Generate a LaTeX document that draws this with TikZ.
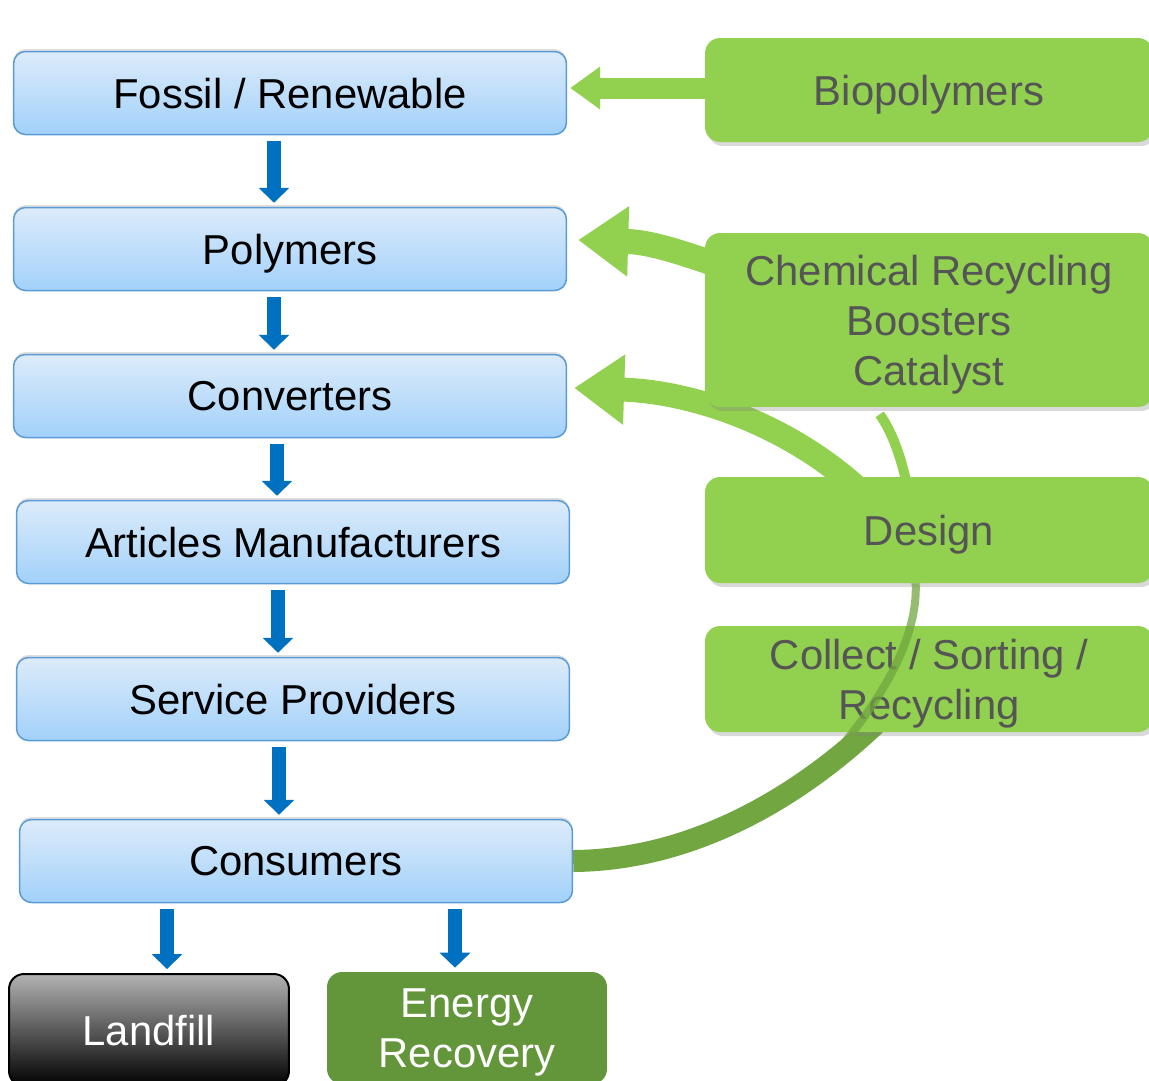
\documentclass[tikz,border=0pt]{standalone}
\usepackage{fontspec}
\setmainfont{Liberation Sans}
\usepackage{xcolor}
\usetikzlibrary{arrows.meta,calc,shadows}

\definecolor{boxtop}{HTML}{DCEBFA}
\definecolor{boxbot}{HTML}{A2D1FA}
\definecolor{boxline}{HTML}{5B9BD5}
\definecolor{flowblue}{HTML}{0070C0}
\definecolor{leaf}{HTML}{92D050}
\definecolor{moss}{HTML}{71A641}
\definecolor{olive}{HTML}{63953A}
\definecolor{ink}{HTML}{555555}

\pgfdeclarelayer{bg}
\pgfdeclarelayer{fg}
\pgfsetlayers{bg,main,fg}

\tikzset{
  bluebox/.style={draw=boxline, line width=0.03cm, rounded corners=0.24cm,
    top color=boxtop, bottom color=boxbot, minimum width=11.06cm,
    minimum height=1.66cm, inner sep=0pt, text=black, text depth=0pt,
    font=\fontsize{23.8}{28.4}\selectfont,
    drop shadow={shadow xshift=0cm, shadow yshift=0.05cm, opacity=0.25}},
  greenbox/.style={fill=leaf, rounded corners=0.3cm, minimum width=8.96cm,
    inner sep=0pt, align=center, text=ink, text depth=0pt,
    font=\fontsize{23.8}{28.4}\selectfont,
    drop shadow={shadow xshift=0.06cm, shadow yshift=-0.08cm, opacity=0.3}},
  endbox/.style={rounded corners=0.3cm, minimum width=5.6cm,
    minimum height=2.24cm, inner sep=0pt, align=center, text=white,
    text depth=0pt, font=\fontsize{23.8}{28.4}\selectfont},
  bluearrow/.style={draw=flowblue, line width=0.28cm,
    -{Triangle[length=0.3cm, width=0.6cm]},
    shorten <=0.12cm, shorten >=0.08cm},
  greenarrow/.style={draw=leaf, line width=0.48cm,
    -{Triangle[length=1cm, width=1.34cm]}}
}

\begin{document}
\begin{tikzpicture}[x=0.02cm, y=-0.02cm]
    \useasboundingbox (0,0) rectangle (1149,1080);
    \clip (0,0) rectangle (1149,1080);

    % Value chain
    \node[bluebox] (fossil) at (290,93) {Fossil / Renewable};
    \node[bluebox] (polymers) at (290,249) {Polymers};
    \node[bluebox] (converters) at (290,396) {Converters};
    \node[bluebox] (articles) at (293,542) {Articles Manufacturers};
    \node[bluebox] (service) at (293,699) {Service Providers};
    \node[bluebox] (consumers) at (296,861) {Consumers};

    % End of life
    \node[endbox, draw=black, line width=0.04cm, top color=gray!60,
      bottom color=black] (landfill) at (149,1030) {Landfill};
    \node[endbox, fill=olive] (energy) at (467,1028) {Energy\\Recovery};

    % Levers
    \node[greenbox, minimum height=2.08cm] (bio) at (929,90) {Biopolymers};
    \node[greenbox, minimum height=3.48cm] (chem) at (929,320)
      {Chemical Recycling\\Boosters\\Catalyst};
    \node[greenbox, minimum height=2.12cm] (design) at (929,530) {Design};
    \node[greenbox, minimum height=2.12cm] (collect) at (929,679)
      {Collect / Sorting /\\Recycling};

    % Blue flow
    \foreach \a/\b/\x in {fossil/polymers/274, polymers/converters/274,
      converters/articles/277, articles/service/278, service/consumers/279,
      consumers/landfill/167, consumers/energy/455}
      \draw[bluearrow] (\a.south -| \x,0) -- (\b.north -| \x,0);

    \begin{pgfonlayer}{bg}
    % Feedback arrows
    \draw[greenarrow, line width=0.42cm, -{Triangle[length=0.6cm, width=0.82cm]}]
      ($(bio.west)+(15,-2)$) -- ($(fossil.east |- bio.west)+(3,-2)$);
    \draw[greenarrow, line width=0.5cm]
      ($(chem.north west)+(15,33)$) .. controls (680,252) and (650,242)
      .. ($(polymers.east)+(11,-9)$);
    \draw[greenarrow]
      ($(design.north west)+(165,23)$) .. controls (800,430) and (700,392)
      .. ($(converters.east)+(7,-8)$);

    % Return loop
    \draw[leaf, line width=0.2cm]
      ($(design.south west)+(211,0)$) .. controls (917,520) and (905,450)
      .. ($(chem.south west)+(175,7)$);
    \draw[moss, line width=0.44cm]
      (consumers.east) .. controls (690,860) and (800,800)
      .. ($(collect.south west)+(185,-22)$);
    \end{pgfonlayer}

    \begin{pgfonlayer}{fg}
    \coordinate (fork) at (840,748);
    \draw[moss, opacity=0.75, line width=0.16cm]
      (fork) .. controls (880,700) and (918,640) .. ($(design.south west)+(211,0)$);
    \end{pgfonlayer}
\end{tikzpicture}
\end{document}
